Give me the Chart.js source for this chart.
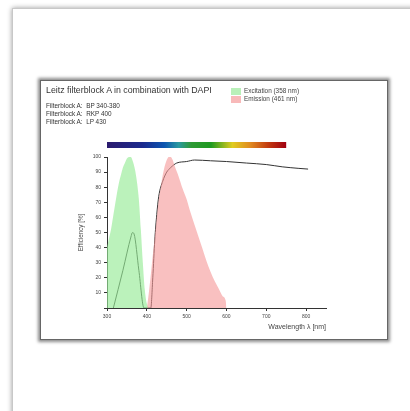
<!DOCTYPE html>
<html><head>
<meta charset="UTF-8">
<title>Leitz filterblock A with DAPI</title>
<script src="https://cdn.jsdelivr.net/npm/chart.js"></script>
<style>
    body {
        margin: 0;
        background: #fff;
        font-family: 'Liberation Sans', Arial, sans-serif;
        overflow: hidden;
    }
    .sheet {
        position: absolute;
        left: 12px; top: 8px;
        width: 420px; height: 420px;
        border: 1px solid #c8c8c8;
        box-shadow: 0 0 5px rgba(0,0,0,0.4);
        background: #fff;
    }
    .box {
        position: absolute;
        left: 40px; top: 80px;
        width: 346px; height: 258px;
        border: 1px solid #666;
        box-shadow: 0 0 3px 2px rgba(0,0,0,0.45);
        background: #fff;
    }
    #chart { position: absolute; left: 0; top: 0; }
    .title { position: absolute; left: 5px; top: 4px; font-size: 8.8px; color: #333; }
    .sub { position: absolute; left: 5px; font-size: 6.4px; color: #333; line-height: 8px; }
    .legend { position: absolute; left: 190px; top: 6px; font-size: 6.4px; color: #444; }
    .legend div { height: 8px; line-height: 8px; display: flex; align-items: center; }
    .legend span.sw { width: 10px; height: 7px; margin-right: 3px; display: inline-block; }
</style>
</head>
<body>
<div class="sheet"></div>
<div class="box">
    <canvas id="chart" width="346" height="258"></canvas>
    <div class="title">Leitz filterblock A in combination with DAPI</div>
    <div class="sub" style="top:21px">Filterblock A:&nbsp;&nbsp;BP 340-380<br>Filterblock A:&nbsp;&nbsp;RKP 400<br>Filterblock A:&nbsp;&nbsp;LP 430</div>
    <div class="legend">
        <div><span class="sw" style="background:#b9f0b9"></span>Excitation (358 nm)</div>
        <div><span class="sw" style="background:#f8b9b9"></span>Emission (461 nm)</div>
    </div>
</div>
<script>
// wavelengths (nm) and efficiency (%)
const excitationNm  = [300, 305, 310, 315, 320, 325, 330, 335, 340, 345, 350, 355, 360, 365, 370, 375, 380, 385, 390, 395, 400, 403];
const excitationPct = [40, 46, 52, 60, 68, 76, 83, 88, 93, 96, 99, 100, 100, 97, 92, 84, 72, 52, 30, 12, 3, 0];

const emissionNm  = [400, 405, 410, 415, 420, 425, 430, 435, 440, 445, 450, 455, 460, 465, 470, 480, 490, 500, 510, 520, 530, 540, 550, 560, 570, 580, 590, 598, 600];
const emissionPct = [0, 10, 22, 35, 47, 60, 72, 80, 88, 94, 98, 100, 100, 98, 94, 87, 79, 72, 63, 55, 47, 39, 31, 24, 18, 13, 8, 5, 0];

const filterNm  = [316, 340, 360, 364, 368, 380, 393, 410, 415, 420, 425, 430, 440, 450, 460, 475, 500, 520, 560, 600, 650, 700, 740, 780, 805];
const filterPct = [0, 25, 47, 50, 49, 25, 0, 0, 20, 45, 62, 74, 84, 90, 93, 96, 97, 98, 97.5, 97, 96, 95, 93.5, 92.5, 92];

const spectrumNm = [300, 750];
const xTicks = [300, 400, 500, 600, 700, 800];

const toPoints = (xs, ys) => xs.map((x, i) => ({ x: x, y: ys[i] }));

const spectrumBar = {
    id: 'spectrumBar',
    afterDraw(chart) {
        const ctx = chart.ctx;
        const x = chart.scales.x;
        const x1 = x.getPixelForValue(spectrumNm[0]);
        const x2 = x.getPixelForValue(spectrumNm[1]);
        const y = chart.chartArea.top - 15;
        const g = ctx.createLinearGradient(x1, 0, x2, 0);
        g.addColorStop(0, '#2b1b6e');
        g.addColorStop(0.2, '#1b2a8e');
        g.addColorStop(0.32, '#0c55b0');
        g.addColorStop(0.4, '#2a9aa0');
        g.addColorStop(0.47, '#2f9a35');
        g.addColorStop(0.58, '#1e9a20');
        g.addColorStop(0.7, '#e0cc20');
        g.addColorStop(0.8, '#e08a20');
        g.addColorStop(0.9, '#c23a10');
        g.addColorStop(1, '#a00012');
        ctx.save();
        ctx.fillStyle = g;
        ctx.fillRect(x1, y, x2 - x1, 6);
        ctx.restore();
    }
};

const tickFont = { size: 5, family: "'Liberation Sans', Arial, sans-serif" };

new Chart(document.getElementById('chart'), {
    type: 'line',
    data: {
        datasets: [{
            label: 'Excitation (358 nm)',
            data: toPoints(excitationNm, excitationPct),
            borderWidth: 0,
            backgroundColor: 'rgba(150,235,150,0.65)',
            fill: 'origin',
            pointRadius: 0,
            cubicInterpolationMode: 'monotone'
        }, {
            label: 'Emission (461 nm)',
            data: toPoints(emissionNm, emissionPct),
            borderWidth: 0,
            backgroundColor: 'rgba(245,150,150,0.6)',
            fill: 'origin',
            pointRadius: 0,
            cubicInterpolationMode: 'monotone'
        }, {
            label: 'Filterblock A',
            data: toPoints(filterNm, filterPct),
            borderColor: '#333',
            borderWidth: 1,
            fill: false,
            pointRadius: 0,
            cubicInterpolationMode: 'monotone'
        }]
    },
    options: {
        responsive: false,
        animation: false,
        layout: { padding: { left: 36, right: 61, top: 76, bottom: 7 } },
        plugins: { legend: { display: false }, tooltip: { enabled: false } },
        scales: {
            x: {
                type: 'linear',
                min: 300,
                max: 850,
                afterBuildTicks: s => { s.ticks = xTicks.map(v => ({ value: v })); },
                afterFit: s => { s.height = 24; },
                ticks: { font: tickFont, color: '#444', padding: 3, maxRotation: 0 },
                grid: { drawOnChartArea: false, tickLength: 3, color: '#333' },
                border: { color: '#333', width: 1 },
                title: { display: true, text: 'Wavelength λ [nm]', align: 'end', font: { size: 7 }, color: '#444', padding: 1 }
            },
            y: {
                min: 0,
                max: 100,
                afterFit: s => { s.width = 30; },
                ticks: { stepSize: 10, font: tickFont, color: '#444', padding: 3,
                         callback: v => v === 0 ? '' : v },
                grid: { drawOnChartArea: false, tickLength: 3, color: '#333' },
                border: { color: '#333', width: 1 },
                title: { display: true, text: 'Efficiency [%]', font: { size: 6.3 }, color: '#444', padding: 0 }
            }
        }
    },
    plugins: [spectrumBar]
});
</script>
</body></html>
